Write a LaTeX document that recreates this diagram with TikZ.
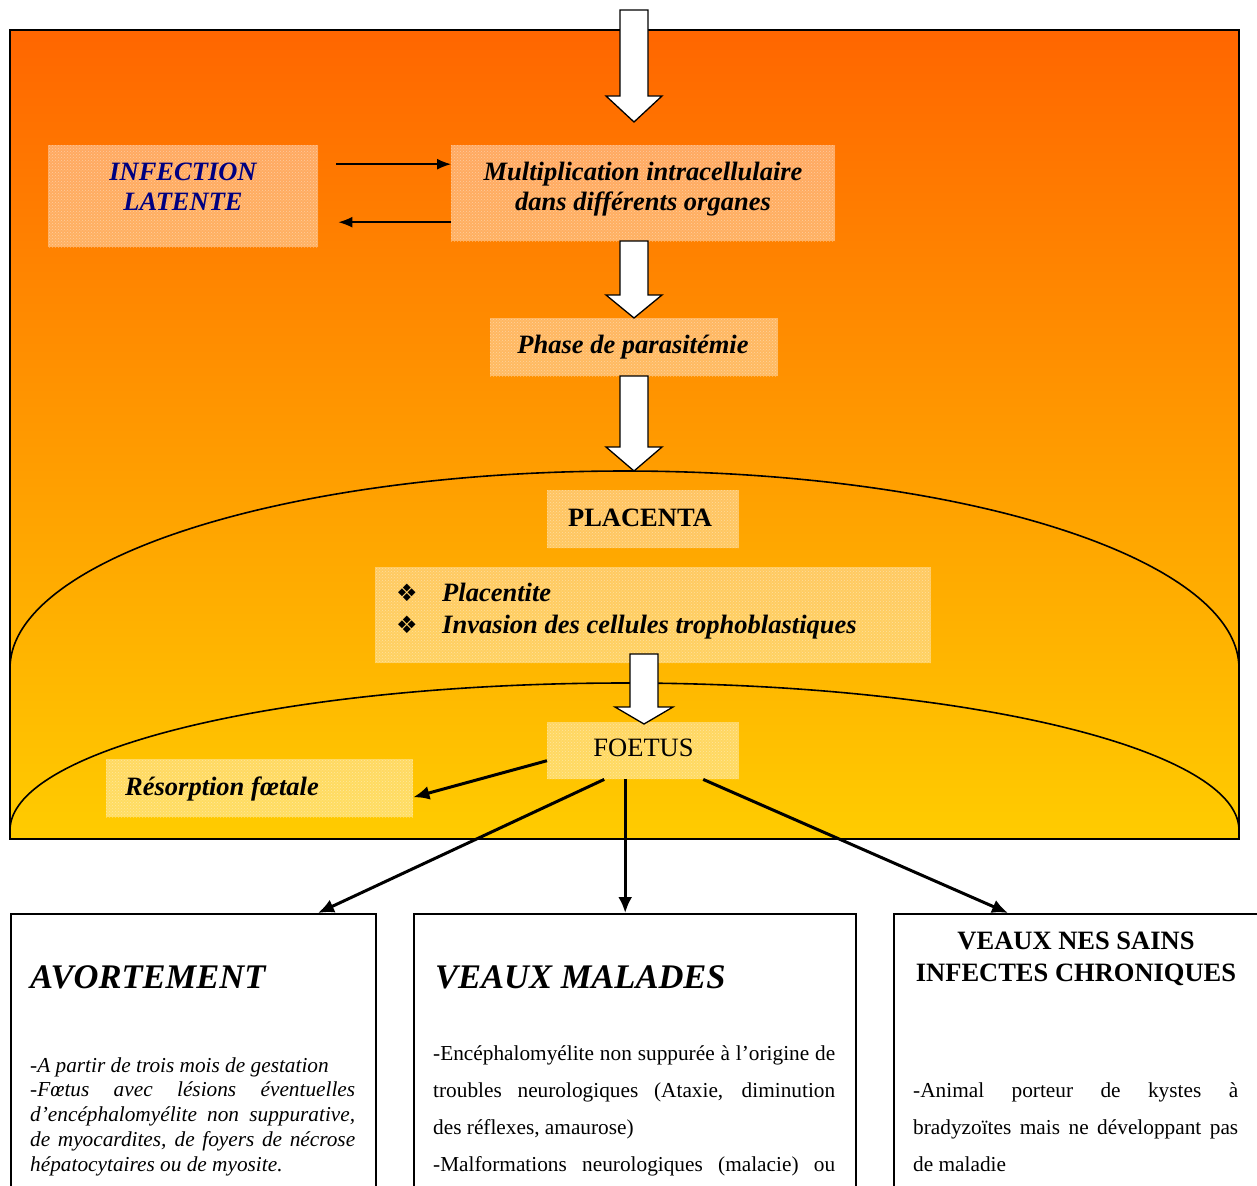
\documentclass[tikz,border=0pt]{standalone}
\usepackage{fontspec}
\setmainfont{Liberation Serif}
\newfontfamily\dingfont{DejaVu Sans}
\usetikzlibrary{arrows.meta,patterns,calc}

\definecolor{navytext}{RGB}{0,0,128}
\definecolor{hotorange}{RGB}{255,102,0}
\definecolor{goldyellow}{RGB}{255,204,0}

% hollow block arrow: x centre, top y, tip y, head length, head half width
\newcommand\blockarrow[5]{%
  \filldraw[fill=white,draw=black,line width=1.3pt,line join=miter]
    ({#1-14},#2) -- ({#1+14},#2) -- ({#1+14},{#3-#4}) -- ({#1+#5},{#3-#4})
    -- (#1,#3) -- ({#1-#5},{#3-#4}) -- ({#1-14},{#3-#4}) -- cycle;}

\tikzset{
  grain/.style={draw=none,fill=white,fill opacity=0.38,text opacity=1,
    postaction={pattern=crosshatch dots,pattern color=white},
    inner sep=0pt,anchor=north west},
  lbl/.style={inner sep=0pt,anchor=base},
  biglbl/.style={lbl,font=\fontsize{26.5}{30}\selectfont\bfseries\itshape},
  resultbox/.style={draw=black,line width=1.5pt,fill=white,inner sep=0pt,anchor=north west,minimum height=320},
  para/.style={inner sep=0pt,anchor=north west,align=justify},
  thinarrow/.style={line width=1.5pt,-{Latex[length=14pt,width=11pt]}},
  fatarrow/.style={line width=3pt,-{Latex[length=16pt,width=14pt]}},
}

\begin{document}
\begin{tikzpicture}[x=1pt,y=-1pt]
\useasboundingbox (0,0) rectangle (1257,1185);
\clip (0,0) rectangle (1257,1185);
\fill[white] (0,0) rectangle (1257,1185);

% host frame with colour ramp
\shade[top color=hotorange,bottom color=goldyellow] (10,30) rectangle (1239,839);
\draw[line width=2pt] (10,30) rectangle (1239,839);

% placenta and foetus envelopes
\draw[line width=1.6pt] plot[domain=180:0,samples=150,smooth]
  ({624.5+614.5*cos(\x)},{668-197*sin(\x)});
\draw[line width=1.6pt] plot[domain=180:0,samples=150,smooth]
  ({624.5+614.5*cos(\x)},{830-147*sin(\x)});

% textured boxes
\node[grain,minimum width=270,minimum height=102] (latent) at (48,145) {};
\node[grain,minimum width=384,minimum height=96] (multi) at (451,145) {};
\node[grain,minimum width=288,minimum height=58] (phase) at (490,318) {};
\node[grain,minimum width=192,minimum height=58] (placenta) at (547,490) {};
\node[grain,minimum width=556,minimum height=96] (lesions) at (375,567) {};
\node[grain,minimum width=192,minimum height=57] (foetus) at (547,722) {};
\node[grain,minimum width=307,minimum height=58] (resorp) at (106,759) {};

% texts of the textured boxes
\node[biglbl,text=navytext] (t1) at (183,180) {INFECTION};
\node[biglbl,text=navytext] (t2) at (183,210) {LATENTE};
\node[biglbl] (t3) at (643,180) {Multiplication intracellulaire};
\node[biglbl] (t4) at (643,210) {dans différents organes};
\node[biglbl] (t5) at (633,353) {Phase de parasitémie};
\node[lbl,font=\fontsize{26.5}{30}\selectfont\bfseries] (t6) at (640,526) {PLACENTA};
\node[lbl,font=\fontsize{24}{28}\dingfont] (b1) at (407,601) {❖};
\node[lbl,font=\fontsize{24}{28}\dingfont] (b2) at (407,633) {❖};
\node[biglbl,anchor=base west] (t7) at (442,601) {Placentite};
\node[biglbl,anchor=base west] (t8) at (442,633) {Invasion des cellules trophoblastiques};
\node[lbl,font=\fontsize{26.5}{30}\selectfont] (t9) at (643.5,756) {FOETUS};
\node[biglbl,anchor=base west] (t10) at (125,795) {Résorption fœtale};

% outcome boxes
\node[resultbox,minimum width=365] (avort) at (10,913) {};
\node[resultbox,minimum width=442] (malades) at (413,913) {};
\node[resultbox,minimum width=420] (sains) at (893,913) {};

\node[lbl,anchor=base west,font=\fontsize{34.5}{40}\selectfont\bfseries\itshape] (h1) at (30,988) {AVORTEMENT};
\node[lbl,anchor=base west,font=\fontsize{34.5}{40}\selectfont\bfseries\itshape] (h2) at (435,988) {VEAUX MALADES};
\node[lbl,font=\fontsize{26.5}{30}\selectfont\bfseries] (h3) at (1076,949) {VEAUX NES SAINS};
\node[lbl,font=\fontsize{26.5}{30}\selectfont\bfseries] (h4) at (1076,981) {INFECTES CHRONIQUES};

\node[para,text width=325,font=\fontsize{21.3}{24.7}\selectfont\itshape] (p1) at (30,1052)
  {\rule{0pt}{20pt}-A partir de trois mois de gestation\par
   -Fœtus avec lésions éventuelles\linebreak
   d’encéphalomyélite non suppurative,\linebreak
   de myocardites, de foyers de nécrose\linebreak
   hépatocytaires ou de myosite.};
\node[para,text width=402,font=\fontsize{21.3}{37}\selectfont] (p2) at (433,1040)
  {\rule{0pt}{20pt}-Encéphalomyélite non suppurée à l’origine de\linebreak
   troubles neurologiques (Ataxie, diminution\linebreak
   des réflexes, amaurose)\par
   \makebox[\linewidth][s]{-Malformations neurologiques (malacie) ou}};
\node[para,text width=325,font=\fontsize{21.3}{37}\selectfont] (p3) at (913,1077)
  {\rule{0pt}{20pt}-Animal porteur de kystes à\linebreak
   bradyzoïtes mais ne développant pas\linebreak
   de maladie};

% hollow transfer arrows
\blockarrow{634}{10}{122}{26}{28}
\blockarrow{634}{241}{318}{23}{28}
\blockarrow{634}{376}{471}{24}{28}
\blockarrow{644}{654}{724}{17}{29}

% latent / active exchange
\draw[thinarrow] ([xshift=18pt,yshift=32pt]latent.east) coordinate (s1) -- (s1 -| multi.west);
\draw[thinarrow] ([yshift=-29pt]multi.west) coordinate (s2) -- ($(s2 -| latent.east)+(20,0)$);

% outcomes of foetal infection
\draw[fatarrow] ([yshift=-10pt]foetus.west) -- ([yshift=-9pt]resorp.east);
\draw[fatarrow] ([xshift=-39pt]foetus.south) -- ($(avort.north west)+(308,0)$);
\draw[fatarrow] ([xshift=-18pt]foetus.south) coordinate (s3) -- (s3 |- malades.north);
\draw[fatarrow] ([xshift=60pt]foetus.south) -- ($(sains.north west)+(115,0)$);
\end{tikzpicture}
\end{document}
